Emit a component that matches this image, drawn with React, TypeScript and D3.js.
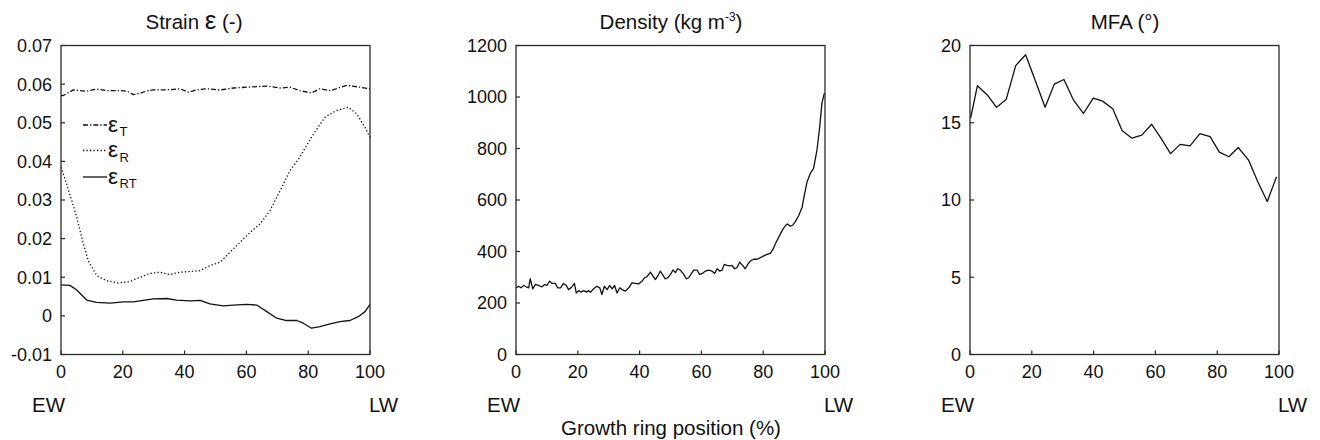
import React from 'react';
import * as d3 from 'd3';

// ---------- DATA ----------
const xTicks = [0, 20, 40, 60, 80, 100];

const strainTicks = [-0.01, 0, 0.01, 0.02, 0.03, 0.04, 0.05, 0.06, 0.07];
const strainTickLabels = ['-0.01', '0', '0.01', '0.02', '0.03', '0.04', '0.05', '0.06', '0.07'];
const densityTicks = [0, 200, 400, 600, 800, 1000, 1200];
const mfaTicks = [0, 5, 10, 15, 20];

// eps_T (dash-dot)
const epsTX = [0, 0.75, 4.0, 8.3, 11.5, 14.8, 19.1, 21.3, 23.4, 25.6, 27.7, 29.9, 34.2, 38.5, 41.2, 43.9, 47.2, 51.5, 55.8, 60.1, 66.6, 70.9, 74.1, 77.3, 81.1, 83.8, 87.1, 92.5, 96.8, 100];
const epsTY = [0.0570, 0.05705, 0.05852, 0.05817, 0.05869, 0.05834, 0.05834, 0.05817, 0.0573, 0.05765, 0.0582, 0.0585, 0.0585, 0.0588, 0.0579, 0.0585, 0.0588, 0.0585, 0.0590, 0.0592, 0.0595, 0.0590, 0.0592, 0.0583, 0.0577, 0.0588, 0.0583, 0.0597, 0.0592, 0.0588];

// eps_R (dotted)
const epsRX = [0, 1.8, 3.5, 5.1, 6.7, 8.8, 11.6, 14.8, 18.5, 22.3, 25.6, 28.8, 32.0, 35.3, 38.5, 41.7, 45.0, 48.2, 51.5, 54.7, 57.9, 61.2, 64.4, 67.6, 70.9, 74.1, 77.3, 81.7, 85.4, 89.2, 93.0, 95.7, 98.4, 100];
const epsRY = [0.0385, 0.0342, 0.0298, 0.0255, 0.0203, 0.0143, 0.0104, 0.0091, 0.0085, 0.0089, 0.0100, 0.0110, 0.0113, 0.0107, 0.0113, 0.0115, 0.0117, 0.0130, 0.0139, 0.0165, 0.0190, 0.0216, 0.0238, 0.0272, 0.0324, 0.0376, 0.0411, 0.0471, 0.0514, 0.0532, 0.0540, 0.0523, 0.0488, 0.0462];

// eps_RT (solid)
const epsRTX = [0, 2.9, 5.1, 8.3, 11.5, 15.9, 20.2, 23.4, 26.6, 29.9, 34.2, 37.4, 41.7, 45.0, 48.2, 52.5, 55.8, 60.1, 63.3, 66.6, 69.8, 73.0, 76.3, 78.4, 81.1, 83.8, 87.1, 90.3, 93.5, 96.2, 98.4, 100];
const epsRTY = [0.0080, 0.0079, 0.0067, 0.0041, 0.0035, 0.0033, 0.0036, 0.0036, 0.0040, 0.0044, 0.0045, 0.0041, 0.0039, 0.0040, 0.0031, 0.0026, 0.0028, 0.0030, 0.0028, 0.0011, -0.0006, -0.0012, -0.0012, -0.0019, -0.0032, -0.0028, -0.0021, -0.0015, -0.0012, -0.0002, 0.0011, 0.0030];

// Density
const densX = [0.0, 0.9, 1.6, 2.5, 3.3, 4.1, 4.6, 5.4, 6.3, 7.3, 8.4, 9.3, 10.0, 10.9, 11.7, 12.7, 13.5, 14.4, 15.4, 16.3, 17.0, 17.8, 18.9, 19.5, 20.3, 21.0, 21.9, 22.8, 23.5, 24.1, 25.1, 26.2, 27.1, 27.8, 28.6, 29.5, 30.3, 31.1, 31.9, 32.7, 33.6, 34.3, 35.4, 36.5, 37.5, 38.6, 39.7, 40.8, 41.6, 42.4, 43.5, 44.3, 45.1, 45.9, 46.7, 47.6, 48.3, 49.1, 50.0, 50.8, 51.6, 52.3, 53.2, 54.3, 55.1, 55.9, 56.6, 57.5, 58.6, 59.4, 60.2, 61.3, 62.4, 63.4, 64.3, 65.1, 65.9, 66.7, 67.4, 68.3, 69.2, 69.9, 70.7, 71.5, 72.4, 73.3, 74.2, 75.0, 75.8, 76.9, 78.0, 79.1, 80.2, 81.2, 82.3, 83.2, 83.9, 85.0, 86.1, 87.2, 87.9, 88.8, 89.6, 90.4, 91.5, 92.6, 93.1, 94.2, 95.3, 96.3, 97.4, 98.3, 99.0, 99.8];
const densY = [259, 265, 259, 268, 263, 259, 295, 255, 272, 268, 263, 272, 268, 285, 276, 276, 259, 259, 276, 268, 252, 259, 276, 239, 248, 242, 248, 242, 248, 242, 255, 265, 259, 233, 265, 252, 268, 255, 268, 239, 259, 252, 246, 259, 278, 276, 274, 285, 298, 302, 320, 305, 291, 305, 324, 307, 294, 298, 311, 328, 318, 333, 328, 311, 294, 298, 311, 328, 328, 311, 314, 324, 328, 324, 315, 333, 324, 328, 350, 346, 344, 346, 333, 337, 359, 346, 333, 350, 363, 370, 370, 376, 383, 389, 393, 409, 429, 455, 481, 501, 507, 498, 503, 516, 540, 572, 605, 671, 704, 723, 794, 885, 976, 1015];

// MFA
const mfaX = [0.2, 2.4, 5.6, 8.6, 11.7, 14.8, 18.0, 21.0, 24.3, 27.3, 30.4, 33.4, 36.7, 39.9, 42.9, 46.2, 49.2, 52.4, 55.6, 58.8, 61.8, 64.9, 68.0, 71.2, 74.4, 77.7, 80.7, 83.8, 86.8, 90.1, 93.1, 96.2, 99.2];
const mfaY = [15.3, 17.4, 16.8, 16.0, 16.5, 18.7, 19.4, 17.8, 16.0, 17.5, 17.8, 16.5, 15.6, 16.6, 16.4, 15.9, 14.5, 14.0, 14.2, 14.9, 14.0, 13.0, 13.6, 13.5, 14.3, 14.1, 13.1, 12.8, 13.4, 12.6, 11.2, 9.9, 11.5];

const legendLabels = ['T', 'R', 'RT'];

// ---------- LAYOUT ----------
const W = 1320;
const H = 440;
const TOP = 45.5;
const BOTTOM = 354.5;
const PW = 309;
const FONT = "'Liberation Sans', Arial, Helvetica, sans-serif";
const INK = '#111';
const FRAME = '#2a2a2a';
const TICK_FS = 18;
const BIG_FS = 20.5;

type Series = { xs: number[]; ys: number[]; dash?: string };

function Panel(props: {
  left: number;
  yDomain: [number, number];
  yTicks: number[];
  yLabels: string[];
  series: Series[];
  title: React.ReactNode;
  titleX: number;
  children?: React.ReactNode;
}) {
  const { left, yDomain, yTicks, yLabels, series, title, titleX } = props;
  const x = d3.scaleLinear().domain([0, 100]).range([left, left + PW]);
  const y = d3.scaleLinear().domain(yDomain).range([BOTTOM, TOP]);
  const line = d3
    .line<[number, number]>()
    .x((d) => x(d[0]))
    .y((d) => y(d[1]));
  return (
    <g>
      <text x={titleX} y={29} textAnchor="middle" fontSize={BIG_FS} fill={INK}>
        {title}
      </text>
      {series.map((s, i) => (
        <path
          key={i}
          d={line(s.xs.map((v, k) => [v, s.ys[k]] as [number, number])) || ''}
          fill="none"
          stroke={INK}
          strokeWidth={1.3}
          strokeDasharray={s.dash}
          strokeLinejoin="round"
        />
      ))}
      <rect x={left} y={TOP} width={PW} height={BOTTOM - TOP} fill="none" stroke={FRAME} strokeWidth={1.3} />
      {yTicks.map((t, i) => (
        <g key={'y' + i}>
          <line x1={left} x2={left + 4} y1={y(t)} y2={y(t)} stroke={FRAME} strokeWidth={1.2} />
          <text x={left - 9} y={y(t)} dy="0.36em" textAnchor="end" fontSize={TICK_FS} fill={INK}>
            {yLabels[i]}
          </text>
        </g>
      ))}
      {xTicks.map((t, i) => (
        <g key={'x' + i}>
          <line x1={x(t)} x2={x(t)} y1={BOTTOM} y2={BOTTOM - 4} stroke={FRAME} strokeWidth={1.2} />
          <text x={x(t)} y={377.5} textAnchor="middle" fontSize={TICK_FS} fill={INK}>
            {String(t)}
          </text>
        </g>
      ))}
      <text x={left - 12.5} y={412} textAnchor="middle" fontSize={BIG_FS} fill={INK}>EW</text>
      <text x={left + PW + 13.5} y={412} textAnchor="middle" fontSize={BIG_FS} fill={INK}>LW</text>
      {props.children}
    </g>
  );
}

export default function App() {
  const lefts = [61, 516, 970];
  const dashT = '5,2,1.3,2';
  const dashR = '1.3,2.2';
  const legendDashes = [dashT, dashR, undefined];
  const legendYs = [125, 150.5, 177];

  return (
    <svg
      width={W}
      height={H}
      viewBox={`0 0 ${W} ${H}`}
      style={{ position: 'absolute', left: 0, top: 0, background: '#fff' }}
      fontFamily={FONT}
    >
      <rect x={0} y={0} width={W} height={H} fill="#fff" />
      <Panel
        left={lefts[0]}
        yDomain={[-0.01, 0.07]}
        yTicks={strainTicks}
        yLabels={strainTickLabels}
        titleX={194}
        title={
          <>
            <tspan>Strain </tspan>
            <tspan fontSize={26}>ε</tspan>
            <tspan> (-)</tspan>
          </>
        }
        series={[
          { xs: epsTX, ys: epsTY, dash: dashT },
          { xs: epsRX, ys: epsRY, dash: dashR },
          { xs: epsRTX, ys: epsRTY },
        ]}
      >
        {legendLabels.map((lab, i) => (
          <g key={lab}>
            <line
              x1={83}
              x2={107}
              y1={legendYs[i]}
              y2={legendYs[i]}
              stroke={INK}
              strokeWidth={1.3}
              strokeDasharray={legendDashes[i]}
            />
            <text x={108} y={legendYs[i] + 6.5} fontSize={22.5} fill={INK}>
              ε
            </text>
            <text x={119.5} y={legendYs[i] + 11} fontSize={13} fill={INK}>
              {lab}
            </text>
          </g>
        ))}
      </Panel>
      <Panel
        left={lefts[1]}
        yDomain={[0, 1200]}
        yTicks={densityTicks}
        yLabels={densityTicks.map(String)}
        titleX={671}
        title={
          <>
            <tspan>Density (kg m</tspan>
            <tspan fontSize={12} dy={-8}>-3</tspan>
            <tspan dy={8}>)</tspan>
          </>
        }
        series={[{ xs: densX, ys: densY }]}
      />
      <Panel
        left={lefts[2]}
        yDomain={[0, 20]}
        yTicks={mfaTicks}
        yLabels={mfaTicks.map(String)}
        titleX={1125}
        title={<tspan>MFA (°)</tspan>}
        series={[{ xs: mfaX, ys: mfaY }]}
      />
      <text x={671} y={435} textAnchor="middle" fontSize={BIG_FS} fill={INK}>
        Growth ring position (%)
      </text>
    </svg>
  );
}
